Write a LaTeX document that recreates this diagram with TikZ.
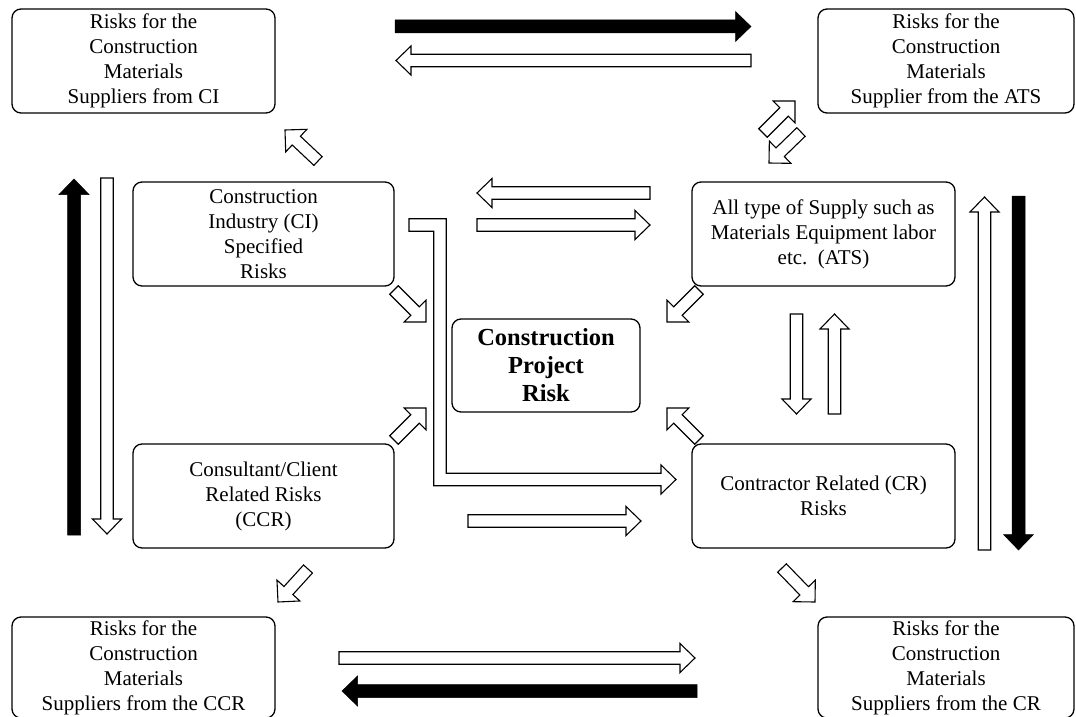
\documentclass[tikz,border=0pt]{standalone}
\usepackage{fontspec}
\setmainfont{Liberation Serif}
\usetikzlibrary{calc}

% block arrow: style, tail, tip, half shaft width, half head width, head length
\newcommand{\blockarrow}[6]{%
  \coordinate (ba-h) at ($(#3)!#6!(#2)$);
  \draw[#1] ($(#2)!#4!90:(#3)$) -- ($(ba-h)!#4!90:(#3)$) -- ($(ba-h)!#5!90:(#3)$)
    -- (#3) -- ($(ba-h)!#5!-90:(#3)$) -- ($(ba-h)!#4!-90:(#3)$)
    -- ($(#2)!#4!-90:(#3)$) -- cycle;
}
\newcommand{\wflow}[2]{\blockarrow{whitearrow}{#1}{#2}{6.25pt}{14.5pt}{15pt}}
\newcommand{\dflow}[2]{\blockarrow{whitearrow}{#1}{#2}{6pt}{15.5pt}{15.5pt}}
\newcommand{\kflow}[2]{\blockarrow{blackarrow}{#1}{#2}{6.5pt}{15pt}{15.5pt}}

\tikzset{
  riskbox/.style={draw, line width=1.3pt, rounded corners=9pt, inner sep=0pt,
    align=center, font=\fontsize{21}{25}\selectfont},
  whitearrow/.style={draw=black, fill=white, line width=1.1pt, line join=miter},
  blackarrow/.style={draw=black, fill=black, line width=0.5pt, line join=miter},
}

\begin{document}
\begin{tikzpicture}[x=1pt, y=-1pt]
\path[use as bounding box, clip] (0,0) rectangle (1076,717);
\fill[white] (0,0) rectangle (1076,717);

% risk boxes
\node[riskbox, minimum width=263pt, minimum height=104pt] (supCI) at (143.5,61)
  {Risks for the\\Construction\\Materials\\Suppliers from CI};
\node[riskbox, minimum width=256pt, minimum height=104pt] (supATS) at (946,61)
  {Risks for the\\Construction\\Materials\\Supplier from the ATS};
\node[riskbox, minimum width=261pt, minimum height=104pt] (ci) at (263.5,234)
  {Construction\\Industry (CI)\\Specified\\Risks};
\node[riskbox, minimum width=261pt, minimum height=104pt] (ccr) at (263.5,496)
  {Consultant/Client\\Related Risks\\(CCR)};
\node[riskbox, minimum width=263pt, minimum height=104pt] (ats) at (823.5,234)
  {All type of Supply such as\\Materials Equipment labor\\etc.\ \ (ATS)};
\node[riskbox, minimum width=263pt, minimum height=104pt] (cr) at (823.5,496)
  {Contractor Related (CR)\\Risks};
\node[riskbox, minimum width=263pt, minimum height=101pt] (supCCR) at (143.5,667.5)
  {Risks for the\\Construction\\Materials\\Suppliers from the CCR};
\node[riskbox, minimum width=256pt, minimum height=101pt] (supCR) at (946,667.5)
  {Risks for the\\Construction\\Materials\\Suppliers from the CR};
\node[riskbox, minimum width=188pt, minimum height=93pt,
  font=\bfseries\fontsize{24.5}{28}\selectfont] (cpr) at (546,365.5)
  {Construction\\Project\\Risk};

% arrow end points
\coordinate (k1t) at (395,26.5);   \coordinate (k1h) at (751,26.5);
\coordinate (k2t) at (74,535);     \coordinate (k2h) at (74,179);
\coordinate (k3t) at (1018.5,196); \coordinate (k3h) at (1018.5,550);
\coordinate (k4t) at (697,691);    \coordinate (k4h) at (342,691);

\coordinate (w1t) at (751,60.5);   \coordinate (w1h) at (396,60.5);
\coordinate (w2t) at (650,193);    \coordinate (w2h) at (477,193);
\coordinate (w3t) at (477,225);    \coordinate (w3h) at (650,225);
\coordinate (w4t) at (468,521);    \coordinate (w4h) at (641,521);
\coordinate (w5t) at (339,658);    \coordinate (w5h) at (695,658);
\coordinate (w6t) at (107,178);    \coordinate (w6h) at (107,534);
\coordinate (w7t) at (984.5,550);  \coordinate (w7h) at (984.5,197);
\coordinate (w8t) at (796.5,314);  \coordinate (w8h) at (796.5,414);
\coordinate (w9t) at (834.5,414);  \coordinate (w9h) at (834.5,314);

\coordinate (d1t) at (318,161);    \coordinate (d1h) at (285,130);
\coordinate (d2t) at (394,290);    \coordinate (d2h) at (426,322);
\coordinate (d3t) at (394,440);    \coordinate (d3h) at (426,408);
\coordinate (d4t) at (699,290);    \coordinate (d4h) at (667,322);
\coordinate (d5t) at (699,440);    \coordinate (d5h) at (667,408);
\coordinate (d6t) at (763,133);    \coordinate (d6h) at (795,101);
\coordinate (d7t) at (801,132);    \coordinate (d7h) at (769,163);
\coordinate (d8t) at (308,569);    \coordinate (d8h) at (278,602);
\coordinate (d9t) at (782,568);    \coordinate (d9h) at (815,602);

% solid flows
\kflow{k1t}{k1h}
\kflow{k2t}{k2h}
\kflow{k3t}{k3h}
\kflow{k4t}{k4h}

% hollow flows
\wflow{w1t}{w1h}
\wflow{w2t}{w2h}
\wflow{w3t}{w3h}
\wflow{w4t}{w4h}
\wflow{w5t}{w5h}
\wflow{w6t}{w6h}
\wflow{w7t}{w7h}
\wflow{w8t}{w8h}
\wflow{w9t}{w9h}

% diagonal flows
\dflow{d1t}{d1h}
\dflow{d2t}{d2h}
\dflow{d3t}{d3h}
\dflow{d4t}{d4h}
\dflow{d5t}{d5h}
\dflow{d6t}{d6h}
\dflow{d7t}{d7h}
\dflow{d8t}{d8h}
\dflow{d9t}{d9h}

% bent flow from CI round the centre to CR
\coordinate (la) at (409,225);
\coordinate (lb) at (440,225);
\coordinate (lc) at (440,479.5);
\coordinate (ld) at (676,479.5);
\draw[whitearrow] ($(la)+(0,-6.25)$) -- ($(lb)+(6.25,-6.25)$) -- ($(lc)+(6.25,-6.25)$)
  -- ($(ld)+(-15,-6.25)$) -- ($(ld)+(-15,-14.5)$) -- (ld) -- ($(ld)+(-15,14.5)$)
  -- ($(ld)+(-15,6.25)$) -- ($(lc)+(-6.25,6.25)$) -- ($(lb)+(-6.25,6.25)$)
  -- ($(la)+(0,6.25)$) -- cycle;
\end{tikzpicture}
\end{document}
